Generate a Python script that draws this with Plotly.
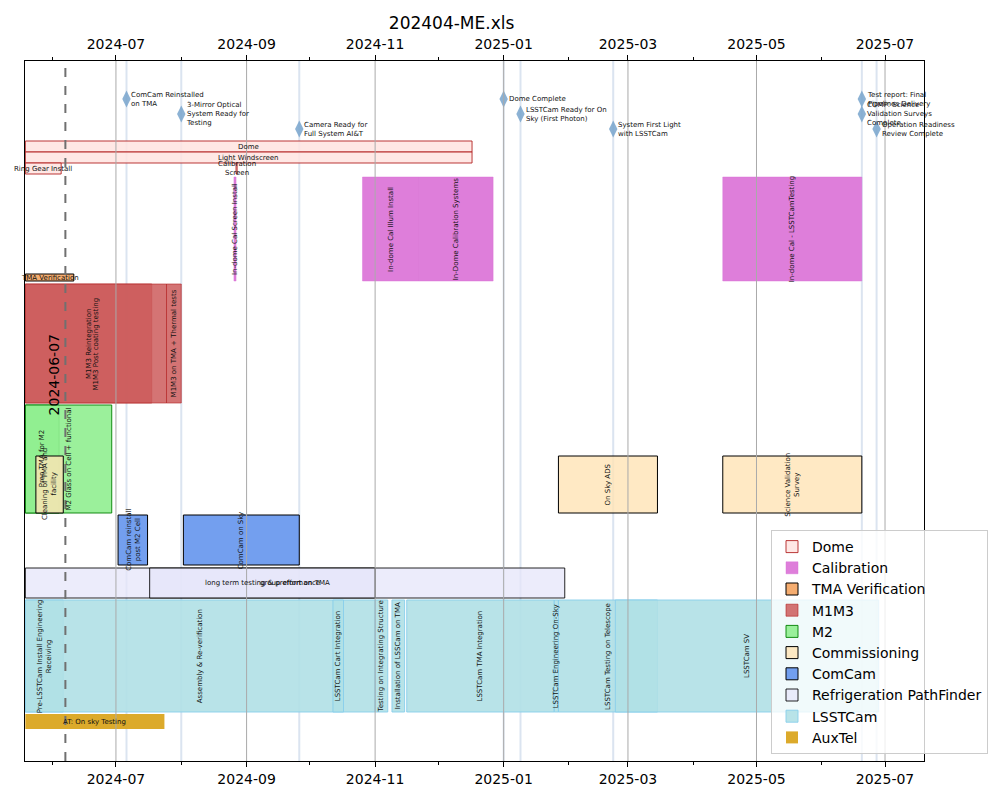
import pandas as pd
import plotly.graph_objects as go

# ---------------- data ----------------
title_text = "202404-ME.xls"
x_range = ["2024-05-18 20:00", "2025-07-19 12:00"]
marker_date = "2024-06-07"

groups = ["Dome", "Calibration", "TMA Verification", "M1M3", "M2", "Commissioning",
          "ComCam", "Refrigeration PathFinder", "LSSTCam", "AuxTel"]

dome_names = ["Dome", "Light Windscreen", "Ring Gear Install", "Calibration<br>Screen"]
dome_start = ["2024-05-19", "2024-05-19", "2024-05-19", "2024-08-27"]
dome_end = ["2024-12-17", "2024-12-17", "2024-06-05", "2024-08-27 12:00"]
dome_lane = [0, 1, 2, 2]

cal_names = ["In-dome Cal Screen Install", "In-dome Cal Illum Install",
             "In-Dome Calibration Systems", "In-dome Cal - LSSTCamTesting"]
cal_start = ["2024-08-26", "2024-10-26", "2024-11-22", "2025-04-15"]
cal_end = ["2024-08-27", "2024-11-22", "2024-12-27", "2025-06-20"]
cal_lane = [0, 0, 0, 0]

tma_names = ["TMA Verification"]
tma_start = ["2024-05-19"]
tma_end = ["2024-06-11"]
tma_lane = [0]

m1m3_names = ["M1M3 Reintegration", "M1M3 Post coating testing", "M1M3 on TMA + Thermal tests"]
m1m3_start = ["2024-05-19", "2024-05-19", "2024-07-25"]
m1m3_end = ["2024-07-18", "2024-07-25", "2024-08-01"]
m1m3_lane = [0, 0, 0]

m2_names = ["Prep TMA for M2", "M2 Glass on Cell + functional"]
m2_start = ["2024-05-19", "2024-05-19"]
m2_end = ["2024-06-04", "2024-06-29"]
m2_lane = [0, 0]

comm_names = ["Cleaning of TMA and<br>facility", "On Sky ADS", "Science Validation<br>Survey"]
comm_start = ["2024-05-24", "2025-01-27", "2025-04-15"]
comm_end = ["2024-06-06", "2025-03-15", "2025-06-20"]
comm_lane = [0, 0, 0]

comcam_names = ["ComCam reinstall<br>post M2 Cell", "ComCam on Sky"]
comcam_start = ["2024-07-02", "2024-08-02"]
comcam_end = ["2024-07-16", "2024-09-26"]
comcam_lane = [0, 0]

refr_names = ["group effort on TMA", "long term testing & preformance"]
refr_start = ["2024-05-19", "2024-07-17"]
refr_end = ["2025-01-30", "2024-11-01"]
refr_lane = [0, 0]

lsst_names = ["Pre-LSSTCam Install Engineering<br>Receiving", "Assembly & Re-verification",
              "LSSTCam Cart Integration", "Testing on Integrating Structure",
              "Installation of LSSCam on TMA", "LSSTCam TMA Integration",
              "LSSTCam Engineering On-Sky", "LSSTCam Testing on Telescope", "LSSTCam SV"]
lsst_start = ["2024-05-19", "2024-05-19", "2024-10-12", "2024-11-01", "2024-11-09",
              "2024-11-16", "2025-01-25", "2025-01-27", "2025-02-23"]
lsst_end = ["2024-06-06", "2024-11-01", "2024-10-17", "2024-11-07", "2024-11-15",
            "2025-01-25", "2025-01-27", "2025-03-15", "2025-06-28"]
lsst_lane = [0] * 9

aux_names = ["AT: On sky Testing"]
aux_start = ["2024-05-19"]
aux_end = ["2024-07-24"]
aux_lane = [0]

milestone_names = ["ComCam Reinstalled<br>on TMA", "3-Mirror Optical<br>System Ready for<br>Testing",
                   "Camera Ready for<br>Full System AI&T", "Dome Complete",
                   "LSSTCam Ready for On<br>Sky (First Photon)", "System First Light<br>with LSSTCam",
                   "Test report: Final<br>Pipelines Delivery",
                   "COMP: Science<br>Validation Surveys<br>Complete",
                   "Operation Readiness<br>Review Complete"]
milestone_dates = ["2024-07-06", "2024-08-01", "2024-09-26", "2025-01-01", "2025-01-09",
                   "2025-02-22", "2025-06-20", "2025-06-20", "2025-06-27"]
milestone_level = [0, 1, 2, 0, 1, 2, 0, 1, 2]

TASKS = {
    "Dome": (dome_names, dome_start, dome_end, dome_lane),
    "Calibration": (cal_names, cal_start, cal_end, cal_lane),
    "TMA Verification": (tma_names, tma_start, tma_end, tma_lane),
    "M1M3": (m1m3_names, m1m3_start, m1m3_end, m1m3_lane),
    "M2": (m2_names, m2_start, m2_end, m2_lane),
    "Commissioning": (comm_names, comm_start, comm_end, comm_lane),
    "ComCam": (comcam_names, comcam_start, comcam_end, comcam_lane),
    "Refrigeration PathFinder": (refr_names, refr_start, refr_end, refr_lane),
    "LSSTCam": (lsst_names, lsst_start, lsst_end, lsst_lane),
    "AuxTel": (aux_names, aux_start, aux_end, aux_lane),
}

# ---------------- layout / style ----------------
STYLE = {
    "Dome": dict(top=80, lane_h=11, fill="rgba(255,228,225,0.85)", edge="rgba(178,34,34,0.9)", lw=1),
    "Calibration": dict(top=116, lane_h=104, fill="rgba(218,112,214,0.9)", edge="rgba(218,112,214,0.9)", lw=0.5),
    "TMA Verification": dict(top=213, lane_h=7, fill="rgba(244,164,96,0.9)", edge="black", lw=1),
    "M1M3": dict(top=223, lane_h=119, fill="rgba(205,92,92,0.85)", edge="rgba(178,34,34,0.6)", lw=1),
    "M2": dict(top=344, lane_h=108, fill="rgba(144,238,144,0.9)", edge="rgba(0,128,0,0.9)", lw=1),
    "Commissioning": dict(top=395, lane_h=57, fill="rgba(255,228,181,0.8)", edge="black", lw=1),
    "ComCam": dict(top=454, lane_h=50, fill="rgba(100,149,237,0.9)", edge="black", lw=1),
    "Refrigeration PathFinder": dict(top=507, lane_h=30, fill="rgba(230,230,250,0.75)", edge="rgba(0,0,0,0.85)", lw=1),
    "LSSTCam": dict(top=539, lane_h=112, fill="rgba(176,224,230,0.9)", edge="rgba(135,206,235,0.9)", lw=1),
    "AuxTel": dict(top=653, lane_h=15, fill="rgba(218,165,32,0.95)", edge="rgba(218,165,32,0.95)", lw=0),
}
FONT = "DejaVu Sans"
ms_y0, ms_dy = 38, 15
# page body adds an 8 px offset; figure is sized/margined to compensate
FIG_W, FIG_H = 992, 792
M_L, M_T, PLOT_W, PLOT_H = 17, 53, 899, 700


def to_dt(values):
    return pd.to_datetime(values, format="mixed")


fig = go.Figure()
annotations = []
for g in groups:
    names, st, en, lane = TASKS[g]
    sty = STYLE[g]
    s = to_dt(st)
    e = to_dt(en)
    dur = [(b - a).total_seconds() * 1000 for a, b in zip(s, e)]
    yc = [sty["top"] + sty["lane_h"] * (l + 0.5) for l in lane]
    fig.add_trace(go.Bar(
        orientation="h", base=[d.strftime("%Y-%m-%d %H:%M") for d in s], x=dur, y=yc,
        width=[sty["lane_h"]] * len(names), name=g, legendgroup=g,
        marker=dict(color=sty["fill"], line=dict(color=sty["edge"], width=sty["lw"])),
        hoverinfo="skip"))
    rotated = sty["lane_h"] > 40
    for nm, a, b, y in zip(names, s, e, yc):
        mid = a + (b - a) / 2
        annotations.append(dict(
            x=mid.strftime("%Y-%m-%d %H:%M"), y=y, xref="x", yref="y", text=nm,
            showarrow=False, xanchor="center", yanchor="middle",
            textangle=-90 if rotated else 0,
            font=dict(family=FONT, size=7, color="#111")))

# milestones
ms_y = [ms_y0 + ms_dy * l for l in milestone_level]
fig.add_trace(go.Scatter(
    x=milestone_dates, y=ms_y, mode="markers", showlegend=False, hoverinfo="skip",
    marker=dict(symbol="diamond-tall", size=12, color="rgba(120,165,205,0.85)")))
for nm, d, y in zip(milestone_names, milestone_dates, ms_y):
    annotations.append(dict(
        x=d, y=y, xref="x", yref="y", text=nm, showarrow=False, xanchor="left",
        yanchor="middle", align="left", xshift=3,
        font=dict(family=FONT, size=7, color="#111")))

# invisible trace to activate top axis
fig.add_trace(go.Scatter(x=x_range, y=[0, 0], xaxis="x2", mode="markers",
                         marker=dict(opacity=0), showlegend=False, hoverinfo="skip"))

shapes = []
for d in sorted(set(milestone_dates)):
    shapes.append(dict(type="line", xref="x", yref="paper", x0=d, x1=d, y0=0, y1=1,
                       line=dict(color="rgba(176,196,222,0.45)", width=2), layer="below"))
for d in pd.date_range("2024-07-01", "2025-07-01", freq="2MS"):
    ds = d.strftime("%Y-%m-%d")
    shapes.append(dict(type="line", xref="x", yref="paper", x0=ds, x1=ds, y0=0, y1=1,
                       line=dict(color="#aaaaaa", width=1), layer="above"))
shapes.append(dict(type="line", xref="x", yref="paper", x0=marker_date, x1=marker_date,
                   y0=0, y1=1, line=dict(color="#707070", width=2, dash="dash"), layer="above"))
annotations.append(dict(x=marker_date, y=314, xref="x", yref="y", text=marker_date,
                        showarrow=False, textangle=-90, xanchor="right", yanchor="middle",
                        xshift=-1, font=dict(family=FONT, size=14, color="black")))

ax_common = dict(
    type="date", range=x_range, dtick="M2", tick0="2024-07-01", tickformat="%Y-%m",
    ticks="outside", ticklen=5, tickwidth=1, tickcolor="black",
    tickfont=dict(family=FONT, size=14, color="black"),
    showgrid=False, zeroline=False,
    minor=dict(dtick="M1", ticks="outside", ticklen=3, tickcolor="black", showgrid=False))

fig.update_layout(
    width=FIG_W, height=FIG_H,
    margin=dict(l=M_L, r=FIG_W - M_L - PLOT_W, t=M_T, b=FIG_H - M_T - PLOT_H, pad=0,
                autoexpand=False),
    paper_bgcolor="white", plot_bgcolor="white",
    barmode="overlay",
    title=dict(text=title_text, x=0.4745, xanchor="center", xref="paper",
               y=1 - 15 / FIG_H, yanchor="middle", font=dict(family=FONT, size=17, color="black")),
    xaxis=dict(**ax_common, showline=True, mirror=True, linecolor="black", linewidth=1),
    xaxis2=dict(**ax_common, overlaying="x", side="top", matches="x"),
    yaxis=dict(range=[700, 0], showticklabels=False, ticks="", showgrid=False,
               zeroline=False, showline=True, mirror=True, linecolor="black", linewidth=1),
    legend=dict(x=(771 - 25) / 899, y=(761 - 530) / 700, xanchor="left", yanchor="top",
                bgcolor="rgba(255,255,255,0.8)", bordercolor="#cccccc", borderwidth=1,
                font=dict(family=FONT, size=14, color="black"), tracegroupgap=2,
                traceorder="normal"),
    shapes=shapes, annotations=annotations,
)

fig.write_html("out.html")
